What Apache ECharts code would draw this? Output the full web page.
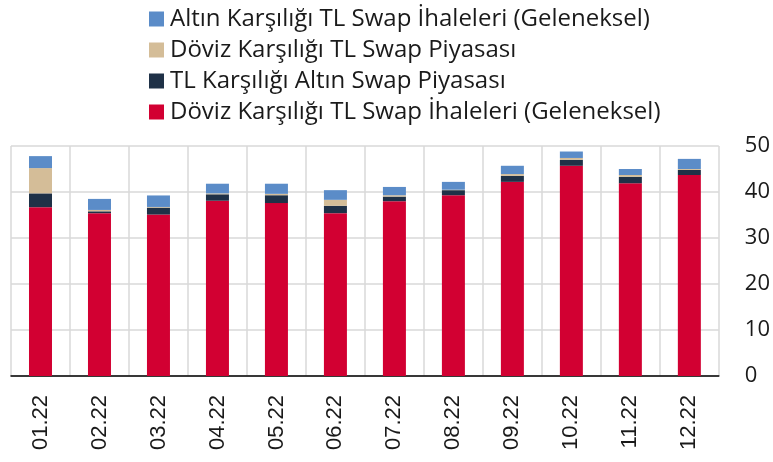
<!DOCTYPE html>
<html>
<head>
<meta charset="utf-8">
<script src="https://cdn.jsdelivr.net/npm/echarts@6/dist/echarts.min.js"></script>
<style>
  html, body { margin: 0; padding: 0; background: #fff; }
  #chart { width: 773px; height: 462px; }
</style>
</head>
<body>
<div id="chart"></div>
<script>
// aylar
var months = ['01.22', '02.22', '03.22', '04.22', '05.22', '06.22', '07.22', '08.22', '09.22', '10.22', '11.22', '12.22'];

// seriler
var dovizIhale = [36.7, 35.4, 35.1, 38.1, 37.6, 35.4, 38.0, 39.3, 42.2, 45.7, 41.9, 43.7];
var tlAltinPiyasa = [3.0, 0.4, 1.5, 1.4, 1.7, 1.6, 1.0, 1.1, 1.3, 1.3, 1.4, 1.1];
var dovizPiyasa = [5.5, 0.3, 0.15, 0.2, 0.3, 1.3, 0.3, 0.1, 0.4, 0.4, 0.4, 0.2];
var altinIhale = [2.6, 2.4, 2.5, 2.1, 2.2, 2.1, 1.8, 1.7, 1.8, 1.4, 1.3, 2.2];

var yTicks = [0, 10, 20, 30, 40, 50];

var names = [
  'Döviz Karşılığı TL Swap İhaleleri (Geleneksel)',
  'TL Karşılığı Altın Swap Piyasası',
  'Döviz Karşılığı TL Swap Piyasası',
  'Altın Karşılığı TL Swap İhaleleri (Geleneksel)'
];
var colors = ['#d20032', '#1f3147', '#d4bd98', '#5b8cc8'];
var seriesData = [dovizIhale, tlAltinPiyasa, dovizPiyasa, altinIhale];

var chart = echarts.init(document.getElementById('chart'), null, { renderer: 'canvas' });

var series = seriesData.map(function (d, i) {
  return {
    name: names[i],
    type: 'bar',
    stack: 'toplam',
    barWidth: 23,
    data: d,
    itemStyle: { color: colors[i] },
    emphasis: { disabled: true }
  };
});

chart.setOption({
  animation: false,
  textStyle: { fontFamily: '"Open Sans", sans-serif' },
  legend: {
    orient: 'vertical',
    left: 144,
    top: 1,
    itemWidth: 15,
    itemHeight: 15,
    itemGap: 5,
    icon: 'rect',
    data: [names[3], names[2], names[1], names[0]],
    textStyle: { fontSize: 24, color: '#1a1a1a', lineHeight: 26, padding: [0, 0, 0, 1], fontFamily: '"Open Sans", sans-serif' }
  },
  grid: { left: 11, right: 51, top: 146, bottom: 86, containLabel: false },
  xAxis: {
    type: 'category',
    data: months,
    axisLine: { lineStyle: { color: '#000', width: 1.5 } },
    axisTick: { show: false },
    splitLine: { show: true, lineStyle: { color: '#d9d9d9', width: 1.5 } },
    axisLabel: {
      rotate: 90,
      margin: 19,
      fontSize: 22,
      color: '#1a1a1a',
      fontFamily: '"Liberation Sans", Arial, sans-serif'
    }
  },
  yAxis: {
    type: 'value',
    position: 'right',
    min: yTicks[0],
    max: yTicks[yTicks.length - 1],
    interval: 10,
    axisLine: { show: false },
    axisTick: { show: false },
    splitLine: { lineStyle: { color: '#d9d9d9', width: 1.5 } },
    axisLabel: { margin: 26, fontSize: 22, color: '#1a1a1a' }
  },
  series: series
});
</script>
</body>
</html>
